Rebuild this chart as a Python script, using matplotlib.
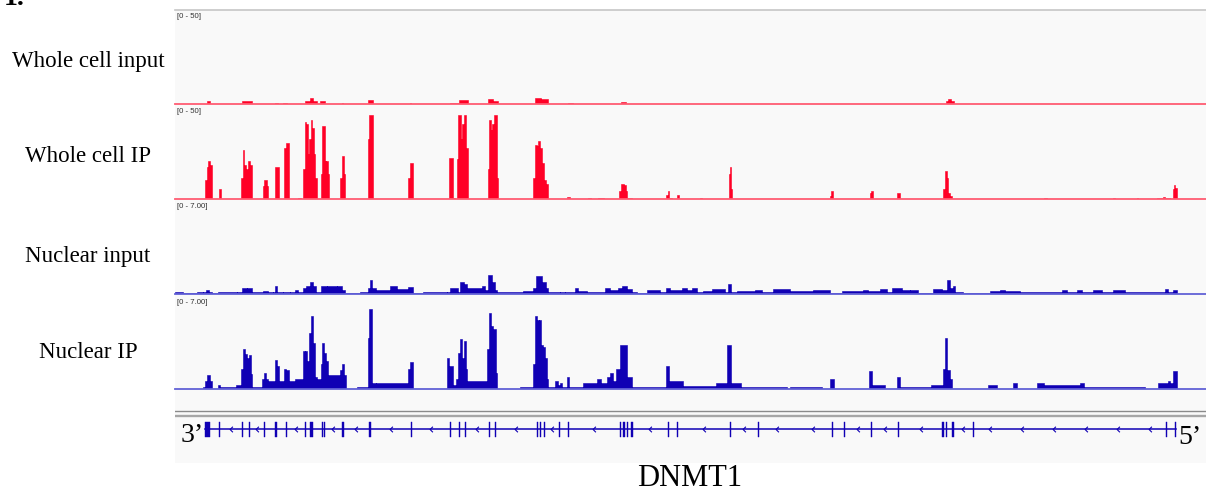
import matplotlib.pyplot as plt
import numpy as np

# IGV-style coverage view of the DNMT1 locus, four ChIP tracks plus the gene model

W, H = 1206, 492
LOCUS_LEN = 1031  # window width in locus units

track_names = ["Whole cell input", "Whole cell IP", "Nuclear input", "Nuclear IP"]
track_max = [50, 50, 7.0, 7.0]
range_labels = ["[0 - 50]", "[0 - 50]", "[0 - 7.00]", "[0 - 7.00]"]

# coverage as (start, end, value) segments
wc_input = [
    (32, 35, 1.2), (67, 77, 1.2), (100, 103, 0.5), (108, 112, 0.5),
    (130, 135, 1.2), (135, 138, 3.2), (138, 142, 1.2), (145, 150, 1.2),
    (167, 168, 0.5), (193, 198, 1.8), (235, 236, 0.5), (275, 284, 0.5),
    (284, 293, 1.8), (313, 318, 2.2), (318, 323, 1.6), (360, 366, 3.2),
    (366, 373, 2.2), (393, 398, 0.5), (446, 451, 0.8),
    (771, 773, 1.2), (773, 776, 2.2), (776, 779, 1.2),
]

wc_ip = [
    (30, 31.5, 10), (31.5, 33, 17), (33, 35, 20), (35, 36.7, 18),
    (43.5, 45.7, 5),
    (66, 67.5, 11), (67.5, 69, 26), (69, 71, 18), (71, 73, 16), (73, 75, 20), (75, 76.7, 18),
    (87.5, 89, 6.5), (89, 91.5, 10), (91.5, 93, 6.5),
    (100, 104, 17),
    (109, 111, 27), (111, 113.7, 30),
    (123, 126, 0.5),
    (128, 129.5, 16), (129.5, 131, 41), (131, 132.5, 40), (132.5, 134, 24), (134, 135.5, 32),
    (135.5, 137, 42), (137, 138.5, 38), (138.5, 140, 24), (140, 141.7, 11),
    (145.5, 147, 13), (147, 149.5, 39), (149.5, 151, 20), (151, 153, 20), (153, 154.3, 13),
    (165, 166.5, 11), (166.5, 169, 23), (169, 170, 13),
    (193, 194, 32), (194, 197.5, 45),
    (233, 234.5, 11), (234.5, 237.5, 19),
    (274, 278, 22), (278, 280, 0.5),
    (281.5, 283, 21.5), (283, 285.5, 45), (285.5, 287, 32), (287, 288.5, 40),
    (288.5, 290.5, 45), (290.5, 292.5, 27),
    (312.5, 314, 16), (314, 315.5, 42), (315.5, 317, 37), (317, 318.5, 40),
    (318.5, 321.5, 45), (321.5, 322.5, 11),
    (358, 359.5, 11), (359.5, 361.5, 28.5), (361.5, 363, 28), (363, 365, 31),
    (365, 367, 27), (367, 369, 19), (369, 371, 10), (371, 373, 8),
    (392, 395, 1), (413, 416, 0.5), (423, 429, 0.5),
    (444, 446, 4.3), (446, 448.5, 8), (448.5, 451, 7), (451, 452, 4.3), (452, 457, 0.5),
    (491, 492.5, 2), (492.5, 494, 4.3), (494, 497, 0.5),
    (502, 503.5, 2), (525, 527, 0.5),
    (553.5, 554.5, 13), (554.5, 556, 17), (556, 557, 5),
    (655, 656, 1.6), (656, 657.5, 4.3),
    (694.5, 695.5, 3.2), (695.5, 697.5, 4.3),
    (722, 724.5, 2.7),
    (768, 769.5, 5), (769.5, 771.5, 15), (771.5, 773, 11), (773, 775, 2.7), (775, 777, 1.6),
    (869, 872, 0.5), (938, 940, 0.5), (962, 963, 0.5),
    (982, 988, 0.5), (988, 990, 1), (990, 995, 0.5),
    (997.5, 998.5, 5), (998.5, 1000, 7.5), (1000, 1001.5, 5.4),
]

nuc_input = [
    (0, 8, 0.13), (8, 22, 0.04), (22, 28, 0.08), (28, 31, 0.15), (31, 34, 0.23),
    (34, 37, 0.11), (37, 43, 0.04), (43, 62, 0.08), (62, 67, 0.11), (67, 72, 0.45),
    (72, 77, 0.38), (77, 88, 0.11), (88, 93, 0.19), (93, 98, 0.15), (98, 100, 0.08),
    (100, 102, 0.53), (102, 108, 0.15), (108, 115, 0.15), (115, 120, 0.08),
    (120, 123, 0.23), (123, 128, 0.11), (128, 131, 0.38), (131, 135, 0.6),
    (135, 138, 0.9), (138, 141, 0.53), (141, 146, 0.15), (146, 152, 0.6),
    (152, 162, 0.53), (162, 167, 0.6), (167, 170, 0.23), (170, 185, 0.04),
    (185, 193, 0.08), (193, 194.5, 0.45), (194.5, 197, 1.05), (197, 201, 0.38),
    (201, 215, 0.23), (215, 222, 0.53), (222, 233, 0.34), (233, 238, 0.5),
    (238, 248, 0.04), (248, 272, 0.08), (272, 275, 0.15), (275, 283, 0.45),
    (283, 285, 0.15), (285, 289, 0.83), (289, 292, 0.68), (292, 307, 0.38),
    (307, 310, 0.6), (310, 313, 0.3), (313, 317, 1.36), (317, 320, 0.9),
    (320, 322, 0.3), (322, 348, 0.11), (348, 358, 0.19), (358, 361, 0.45),
    (361, 367, 1.28), (367, 371, 0.83), (371, 373, 0.45), (373, 385, 0.11),
    (385, 390, 0.08), (390, 400, 0.11), (400, 403, 0.38), (403, 412, 0.19),
    (412, 430, 0.11), (430, 435, 0.45), (435, 443, 0.26), (443, 447, 0.45),
    (447, 452, 0.58), (452, 457, 0.34), (457, 462, 0.15), (462, 472, 0.05),
    (472, 485, 0.23), (485, 491, 0.08), (491, 495, 0.4), (495, 507, 0.26),
    (507, 512, 0.38), (512, 517, 0.23), (517, 522, 0.38), (522, 528, 0.15),
    (528, 537, 0.19), (537, 550, 0.34), (550, 553, 0.15), (553, 556, 0.75),
    (556, 562, 0.08), (562, 580, 0.19), (580, 587, 0.23), (587, 598, 0.15),
    (598, 615, 0.32), (615, 638, 0.19), (638, 655, 0.28), (655, 667, 0.04),
    (667, 688, 0.19), (688, 693, 0.28), (693, 705, 0.19), (705, 712, 0.34),
    (712, 717, 0.15), (717, 727, 0.43), (727, 735, 0.23), (735, 743, 0.25),
    (743, 758, 0.05), (758, 767, 0.32), (767, 772, 0.23), (772, 775, 0.98),
    (775, 778, 0.38), (778, 780, 0.53), (780, 788, 0.08), (788, 815, 0.04),
    (815, 825, 0.19), (825, 830, 0.26), (830, 845, 0.19), (845, 887, 0.11),
    (887, 892, 0.28), (892, 902, 0.11), (902, 907, 0.3), (907, 918, 0.11),
    (918, 927, 0.23), (927, 938, 0.15), (938, 950, 0.23), (950, 990, 0.15),
    (990, 993, 0.32), (993, 998, 0.08), (998, 1002, 0.3),
]

nuc_ip = [
    (28, 30, 0.08), (30, 32, 0.6), (32, 35, 0.98), (35, 37, 0.6),
    (43, 45, 0.23), (45, 61, 0.08), (61, 66, 0.23),
    (66, 68, 1.5), (68, 70, 3.0), (70, 72, 2.6), (72, 74, 2.26), (74, 76, 2.5), (76, 77, 1.1),
    (77, 87, 0.08),
    (87, 89, 0.75), (89, 91, 1.13), (91, 93, 0.75), (93, 100, 0.53),
    (100, 102, 2.18), (102, 104, 1.66), (104, 109, 0.6),
    (109, 111, 1.5), (111, 114, 1.36), (114, 120, 0.6), (120, 128, 0.68),
    (128, 130, 2.79), (130, 132, 2.86), (132, 134, 2.1), (134, 136, 4.14),
    (136, 138, 5.42), (138, 140, 3.39), (140, 142, 0.9), (142, 146, 0.75),
    (146, 147, 1.88), (147, 149, 3.39), (149, 151, 2.64), (151, 153, 2.1),
    (153, 165, 1.05), (165, 167, 1.36), (167, 169, 1.88), (169, 171, 1.05),
    (182, 193, 0.08), (193, 194, 3.77), (194, 197, 6.02),
    (197, 201, 0.45), (201, 233, 0.38), (233, 235, 1.5), (235, 238, 2.03),
    (272, 274, 2.26), (274, 278, 1.66), (278, 281, 0.23), (281, 283, 0.75),
    (283, 285, 2.64), (285, 287, 3.69), (287, 289, 2.26), (289, 291, 3.54), (291, 292, 1.5),
    (292, 312, 0.6),
    (312, 314, 3.0), (314, 316, 5.72), (316, 318, 4.67), (318, 321, 4.5), (321, 322, 1.13),
    (345, 358, 0.11),
    (358, 360, 1.88), (360, 362, 5.42), (362, 364, 5.12), (364, 366, 5.12),
    (366, 368, 3.24), (368, 370, 3.16), (370, 372, 2.26), (372, 373, 0.75),
    (373, 380, 0.15), (380, 383, 0.53), (383, 385, 0.23), (385, 387, 0.45),
    (387, 392, 0.15), (392, 394, 0.9), (394, 408, 0.15), (408, 422, 0.45),
    (422, 426, 0.75), (426, 432, 0.45), (432, 435, 0.9), (435, 438, 1.13),
    (438, 441, 0.6), (441, 445, 1.5), (445, 452, 3.31), (452, 457, 0.9),
    (457, 491, 0.08), (491, 494, 1.66), (494, 508, 0.53), (508, 541, 0.19),
    (541, 552, 0.45), (552, 556, 3.24), (556, 566, 0.38), (566, 612, 0.15),
    (615, 647, 0.08), (655, 659, 0.68), (694, 697, 1.28), (697, 710, 0.23),
    (722, 725, 0.9), (725, 756, 0.08), (756, 768, 0.23), (768, 770, 1.5),
    (770, 772, 3.77), (772, 775, 1.36), (775, 777, 0.75), (813, 822, 0.23),
    (838, 842, 0.38), (862, 869, 0.38), (869, 905, 0.23), (905, 909, 0.38),
    (909, 970, 0.15), (983, 993, 0.38), (993, 995, 0.53), (995, 998, 0.38),
    (998, 1002, 1.28),
]

tracks = [wc_input, wc_ip, nuc_input, nuc_ip]

# gene model (minus strand), exon blocks
exon_starts = [30, 43.5, 66.5, 73.5, 88.5, 100, 110.5, 129.5, 134.5, 146.5, 148.5,
               166.5, 193.5, 235.5, 274.5, 283.5, 289.5, 313.5, 319.5, 361.5, 364.5,
               368.5, 383.5, 392.5, 444.5, 448, 451.5, 456, 492.5, 501.5, 554.5,
               582.5, 656.5, 668.5, 695.5, 722.5, 767, 770.5, 777, 797.5, 990.5, 999.5]
exon_ends = [35, 45, 68, 75, 90, 102, 112, 131, 138, 148, 150,
             169, 196, 237, 276, 285, 291, 315, 321, 363, 366,
             370, 385, 394, 446, 449.5, 453, 457.5, 494, 503, 556,
             584, 658, 670, 697, 724, 768.5, 772, 778.5, 799, 992, 1001]
gene_name = "DNMT1"

RED = "#ff0026"
RED_LINE = "#ff5c72"
BLUE = "#1000b4"
BLUE_LINE = "#6262d6"
track_colors = [(RED, RED_LINE), (RED, RED_LINE), (BLUE, BLUE_LINE), (BLUE, BLUE_LINE)]

SERIF = ["Liberation Serif", "DejaVu Serif"]


def px_axes(fig, x0, y0, x1, y1, **kw):
    # axes from a pixel box measured from the top-left corner
    return fig.add_axes([x0 / W, 1 - y1 / H, (x1 - x0) / W, (y1 - y0) / H], **kw)


def step_outline(segments):
    xs, ys = [], []
    for s, e, v in segments:
        xs += [s, s, e, e]
        ys += [0, v, v, 0]
    return xs, ys


fig = plt.figure(figsize=(W / 100, H / 100), dpi=100, facecolor="white")

# grey browser panel
panel = px_axes(fig, 175, 10, 1206, 463)
panel.set_facecolor("#f9f9f9")
panel.set_xticks([])
panel.set_yticks([])
for side in ["left", "right", "bottom"]:
    panel.spines[side].set_visible(False)
panel.spines["top"].set_color("#c6c6c6")
panel.spines["top"].set_linewidth(1.2)

for i, seg in enumerate(tracks):
    baseline = 103.5 + 95 * i
    ax = px_axes(fig, 175, baseline - 93, 1206, baseline)
    ax.patch.set_alpha(0)
    ax.set_xlim(0, LOCUS_LEN)
    ax.set_ylim(0, track_max[i])
    ax.axis("off")
    fill_c, line_c = track_colors[i]
    xs, ys = step_outline(seg)
    ax.fill(xs, ys, color=fill_c, lw=0.4, ec=fill_c)
    ax.axhline(0, color=line_c, lw=1.3, clip_on=False)
    ax.text(0.002, 1 - 3 / 93, range_labels[i], transform=ax.transAxes,
            ha="left", va="top", fontsize=5.6, color="#333333",
            family=["Liberation Sans", "DejaVu Sans"])

# gene track
gax = px_axes(fig, 175, 404, 1206, 454)
gax.patch.set_alpha(0)
gax.set_xlim(0, LOCUS_LEN)
gax.set_ylim(-25, 25)
gax.axis("off")
gax.axhline(18.5, color="#8a8a8a", lw=1.0)
gax.axhline(12.8, color="#a6a6a6", lw=1.7)
gax.plot([exon_starts[0], exon_ends[-1]], [0, 0], color=BLUE, lw=1.1)
gax.bar(exon_starts, 15, width=np.subtract(exon_ends, exon_starts), bottom=-7.5,
        align="edge", color=BLUE, lw=0.3, ec=BLUE)

# strand chevrons spaced along the introns
marks = []
for e0, s1 in zip(exon_ends[:-1], exon_starts[1:]):
    gap = s1 - e0
    n = int(gap // 29)
    if n == 0 and gap > 12:
        n = 1
    marks += list(e0 + gap * (np.arange(n) + 0.5) / max(n, 1))
chevron = [(0.5, 1.0), (-0.5, 0.0), (0.5, -1.0)]
gax.plot(marks, np.zeros(len(marks)), ls="none", marker=chevron, ms=4,
         mfc="none", mec=BLUE, mew=0.8)

# row labels and strand ends
label_baselines = [67, 162, 262, 358]
for name, yb in zip(track_names, label_baselines):
    fig.text(88 / W, 1 - yb / H, name, ha="center", va="baseline",
             fontsize=16.5, family=SERIF)

fig.text(181 / W, 1 - 442 / H, "3\u2019", ha="left", va="baseline", fontsize=20, family=SERIF)
fig.text(1178 / W, 1 - 444 / H, "5\u2019", ha="left", va="baseline", fontsize=20, family=SERIF)
fig.text(690 / W, 1 - 485.5 / H, gene_name, ha="center", va="baseline", fontsize=22, family=SERIF)
fig.text(4 / W, 1 - 5 / H, "1.", ha="left", va="baseline", fontsize=20,
         fontweight="bold", family=SERIF)

fig.savefig("out.png", dpi=100, facecolor="white")
